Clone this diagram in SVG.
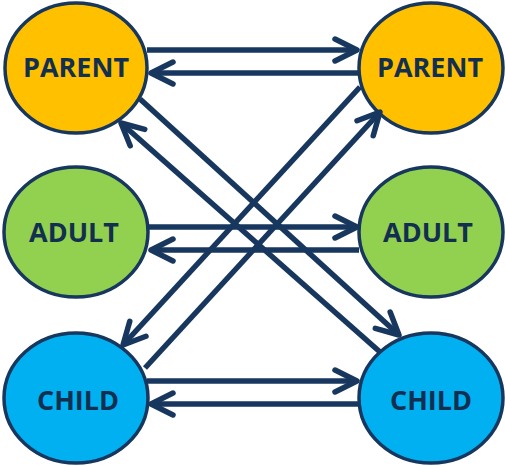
<svg xmlns="http://www.w3.org/2000/svg" width="505" height="466" viewBox="0 0 505 466">
  <defs>
    <marker id="arr" markerUnits="userSpaceOnUse" viewBox="-30 -15 34 30" markerWidth="34" markerHeight="30" refX="0" refY="0" orient="auto" overflow="visible">
      <path d="M-22,-11 L0,0 L-22,11" fill="none" stroke="#17375E" stroke-width="5.5" stroke-linecap="round" stroke-linejoin="round"/>
    </marker>
  </defs>
  <style>
    .node ellipse { stroke: #17375E; stroke-width: 3.5; }
    .parent { fill: #FFC000; }
    .adult { fill: #92D050; }
    .child { fill: #00B0F0; }
    .lbl { font-family: "Open Sans", "Liberation Sans", sans-serif; font-weight: 700; font-size: 27px; fill: #132F50; text-anchor: middle; }
    .conn line { stroke: #17375E; stroke-width: 5.5; marker-end: url(#arr); }
  </style>
  <rect width="505" height="466" fill="#FFFFFF"/>
  <g id="node-parent-left" class="node">
    <ellipse class="parent" cx="76" cy="68" rx="71" ry="65"/>
    <text class="lbl" x="76" y="77">PARENT</text>
  </g>
  <g id="node-parent-right" class="node">
    <ellipse class="parent" cx="431" cy="68" rx="72" ry="65"/>
    <text class="lbl" x="430" y="77">PARENT</text>
  </g>
  <g id="node-adult-left" class="node">
    <ellipse class="adult" cx="76" cy="232" rx="72" ry="65"/>
    <text class="lbl" x="74" y="242">ADULT</text>
  </g>
  <g id="node-adult-right" class="node">
    <ellipse class="adult" cx="431" cy="232" rx="72" ry="65"/>
    <text class="lbl" x="428" y="242">ADULT</text>
  </g>
  <g id="node-child-left" class="node">
    <ellipse class="child" cx="76" cy="398" rx="72" ry="65"/>
    <text class="lbl" x="78" y="410">CHILD</text>
  </g>
  <g id="node-child-right" class="node">
    <ellipse class="child" cx="431" cy="398" rx="72" ry="65"/>
    <text class="lbl" x="431" y="410">CHILD</text>
  </g>
  <g id="connectors" class="conn">
    <line x1="147" y1="50" x2="357" y2="50"/>
    <line x1="359" y1="73" x2="151" y2="73"/>
    <line x1="148" y1="227" x2="357" y2="227"/>
    <line x1="359" y1="250" x2="151" y2="250"/>
    <line x1="147" y1="381" x2="357" y2="381"/>
    <line x1="359" y1="404" x2="151" y2="404"/>
    <line x1="140" y1="99" x2="399" y2="335"/>
    <line x1="380" y1="352" x2="121" y2="123"/>
    <line x1="360" y1="87" x2="123" y2="345"/>
    <line x1="145" y1="368" x2="380" y2="112"/>
  </g>
</svg>
